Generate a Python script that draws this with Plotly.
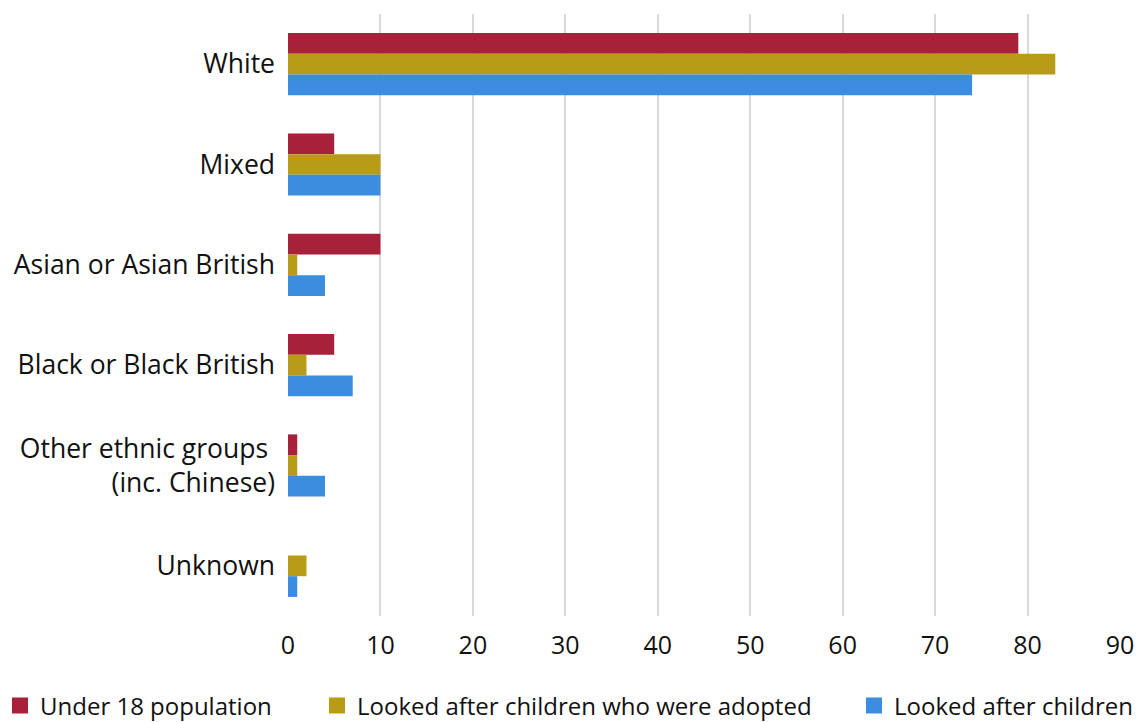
import plotly.graph_objects as go

categories = ["White", "Mixed", "Asian or Asian British", "Black or Black British",
              "Other ethnic groups <br>(inc. Chinese)", "Unknown"]
under18 = [79, 5, 10, 5, 1, 0]
adopted = [83, 10, 1, 2, 1, 2]
looked_after = [74, 10, 4, 7, 4, 1]
series_names = ["Under 18 population", "Looked after children who were adopted", "Looked after children"]
colors = ["#A62139", "#B89B16", "#3A8DDF"]
x_ticks = [0, 10, 20, 30, 40, 50, 60, 70, 80, 90]
legend_ids = ["legend", "legend2", "legend3"]
legend_x = [0.0, 317 / 1142, 854 / 1142]

fig = go.Figure()
for name, vals, col, lid in zip(series_names, [under18, adopted, looked_after], colors, legend_ids):
    fig.add_trace(go.Bar(y=categories, x=vals, orientation="h", name=name,
                         marker=dict(color=col, line=dict(width=0)), showlegend=False))
    fig.add_trace(go.Scatter(x=[None], y=[None], mode="markers", name=name, legend=lid,
                             marker=dict(symbol="square", size=22, color=col)))

legend_common = dict(orientation="h", xref="container", yref="container", xanchor="left",
                     yanchor="middle", y=16 / 722, font=dict(size=24), itemsizing="trace",
                     bgcolor="rgba(0,0,0,0)", borderwidth=0)

fig.update_layout(
    width=1142, height=722,
    margin=dict(l=288, r=22, t=14, b=106),
    paper_bgcolor="white", plot_bgcolor="white",
    barmode="group", bargap=0.38, bargroupgap=0,
    font=dict(family="Open Sans", size=24, color="#111111"),
    xaxis=dict(range=[0, 90], tickvals=x_ticks, showgrid=True, gridcolor="#D9D9D9",
               gridwidth=2, zeroline=False, ticks="", ticklabelstandoff=12,
               showline=False, fixedrange=True, automargin=False,
               tickfont=dict(size=25)),
    yaxis=dict(autorange="reversed", showgrid=False, zeroline=False, ticks="",
               ticklabelstandoff=12, showline=False, type="category", automargin=False,
               tickfont=dict(size=26.5)),
    legend=dict(legend_common, x=legend_x[0]),
    legend2=dict(legend_common, x=legend_x[1]),
    legend3=dict(legend_common, x=legend_x[2]),
)
fig.write_html("out.html")
